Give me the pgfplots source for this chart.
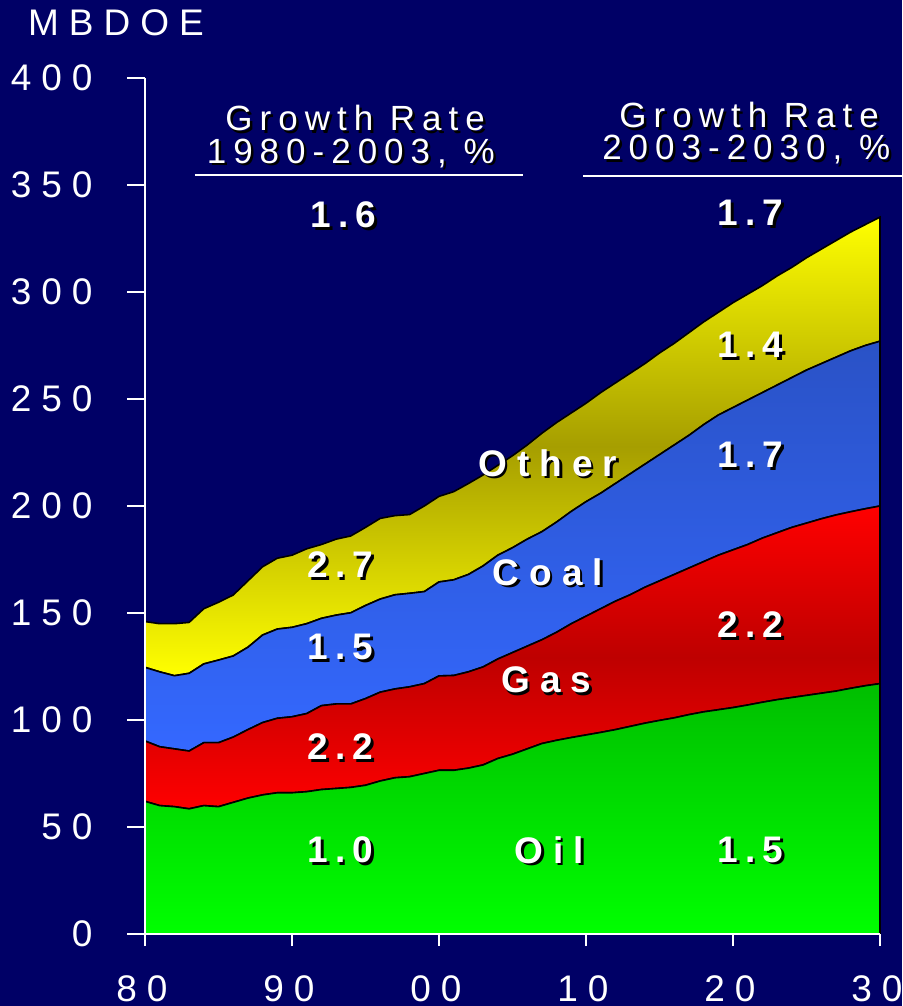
\documentclass[border=0pt]{standalone}
\usepackage{fontspec}
\setmainfont{Liberation Sans}
\newfontfamily\tickfont[LetterSpace=27]{Liberation Sans}
\newfontfamily\hdfont[LetterSpace=20]{Liberation Sans}
\newfontfamily\numfont[LetterSpace=19]{Liberation Sans}
\newfontfamily\wordfont[LetterSpace=27]{Liberation Sans}
\usepackage{pgfplots}
\pgfplotsset{compat=1.18}
\usepackage{pgfplotstable}

\definecolor{bg}{HTML}{000066}
\definecolor{oilB}{HTML}{00FF00}
\definecolor{oilT}{HTML}{00BE00}
\definecolor{gasE}{HTML}{FF0000}
\definecolor{gasM}{HTML}{BE0000}
\definecolor{coalB}{HTML}{3468FF}
\definecolor{coalT}{HTML}{2A52C6}
\definecolor{othE}{HTML}{FFFF00}
\definecolor{othM}{HTML}{A69E00}

\pgfplotstableread{
year oil gas coal other
1980 62.0 28.2 34.4 21.4
1981 60.0 27.5 35.0 22.5
1982 59.5 27.0 34.2 24.3
1983 58.5 27.0 36.3 23.8
1984 60.0 29.4 36.8 25.8
1985 59.5 29.9 38.6 27.0
1986 61.5 30.5 37.9 28.5
1987 63.5 32.0 38.5 31.0
1988 65.0 33.8 40.9 31.9
1989 66.0 34.8 41.7 33.1
1990 66.0 35.5 41.8 33.7
1991 66.5 36.5 42.0 35.0
1992 67.5 39.2 40.8 34.5
1993 68.0 39.5 41.5 35.5
1994 68.5 39.0 42.6 35.9
1995 69.5 40.5 43.5 36.5
1996 71.5 41.5 43.5 37.7
1997 73.0 41.5 44.0 37.0
1998 73.5 42.0 43.7 36.8
1999 75.0 42.0 43.0 40.0
2000 76.5 44.1 43.9 40.0
2001 76.5 44.3 44.7 41.2
2002 77.5 45.0 45.5 42.5
2003 79.0 45.8 47.2 42.5
2004 82.0 46.5 48.5 42.0
2005 84.0 47.5 49.0 43.0
2006 86.5 48.0 50.0 44.0
2007 89.0 48.5 50.5 46.0
2008 90.5 50.5 51.5 46.5
2009 91.8 53.2 52.5 46.0
2010 93.0 55.5 53.5 46.0
2011 94.2 57.8 54.0 47.0
2012 95.5 60.0 55.0 47.0
2013 97.0 61.5 56.5 47.0
2014 98.5 63.5 57.5 47.0
2015 99.8 65.2 59.0 47.5
2016 101.0 67.0 60.5 47.5
2017 102.5 68.5 62.0 48.0
2018 103.8 70.2 64.0 48.0
2019 104.8 72.2 65.5 48.0
2020 105.8 73.7 66.5 49.0
2021 107.0 75.0 67.5 49.5
2022 108.3 76.7 68.0 50.0
2023 109.5 78.0 69.0 51.0
2024 110.5 79.5 70.0 51.5
2025 111.5 80.5 71.5 52.5
2026 112.5 81.5 72.5 53.5
2027 113.5 82.3 73.7 54.5
2028 114.8 82.5 75.2 55.5
2029 116.0 82.7 76.3 56.5
2030 117.0 83.0 77.0 58.0
}\energy

% shadowed text: #1 position, #2 font, #3 text
\newcommand{\stxt}[3]{%
  \node[text=black, xshift=2.5pt, yshift=-2.5pt, font=#2] at (#1) {#3};
  \node[text=white, font=#2] at (#1) {#3};
}
\newcommand{\fnum}{\numfont\bfseries\fontsize{37}{40}\selectfont}
\newcommand{\fword}{\wordfont\bfseries\fontsize{37}{40}\selectfont}
\newcommand{\fhd}{\hdfont\fontsize{35}{38}\selectfont}

\begin{document}
\begin{tikzpicture}[x=1pt,y=1pt]
\clip (0,0) rectangle (902,1006);
\fill[bg] (0,0) rectangle (902,1006);
\node[anchor=base west, text=white, font=\tickfont\fontsize{37}{40}\selectfont, inner sep=0pt] at (28,970) {MBDOE};

\begin{axis}[
  at={(145pt,72pt)}, anchor=south west,
  scale only axis, width=735pt, height=856pt,
  xmin=1980, xmax=2030, ymin=0, ymax=400,
  axis lines=left, axis line style={white, line width=2pt, -},
  clip=false, axis on top,
  stack plots=y,
  xtick=\empty,
  ytick={0,50,...,400},
  major tick length=18pt, tick align=outside,
  tick style={white, line width=2pt},
  /pgf/number format/assume math mode=true,
  yticklabel style={text=white, font=\tickfont\fontsize{37}{40}\selectfont, anchor=east, xshift=-31pt},
]
\addplot[draw=black, line width=1.6pt, top color=oilT, bottom color=oilB] table[x=year, y=oil] {\energy} \closedcycle;
\addplot[draw=black, line width=1.6pt, top color=gasE, bottom color=gasE, middle color=gasM] table[x=year, y=gas] {\energy} \closedcycle;
\addplot[draw=black, line width=1.6pt, top color=coalT, bottom color=coalB] table[x=year, y=coal] {\energy} \closedcycle;
\addplot[draw=black, line width=1.6pt, top color=othE, bottom color=othE, middle color=othM] table[x=year, y=other] {\energy} \closedcycle;
\end{axis}

\begin{axis}[
  at={(145pt,72pt)}, anchor=south west,
  scale only axis, width=735pt, height=856pt,
  xmin=1980, xmax=2030, ymin=0, ymax=400,
  axis x line=bottom, hide y axis, clip=false,
  axis line style={white, line width=2pt, -},
  xtick={1980,1990,2000,2010,2020,2030},
  xticklabels={80,90,00,10,20,30},
  major tick length=12pt, tick align=outside,
  tick style={white, line width=2pt},
  xticklabel style={text=white, font=\tickfont\fontsize{37}{40}\selectfont, anchor=north, yshift=-26pt, xshift=-3pt},
]
% headers
\stxt{1994.3,381.3}{\fhd}{Growth Rate}
\stxt{1994.0,364.9}{\fhd}{1980-2003, \%}
\draw[white, line width=2pt] (1983.4,354.7) -- (2005.7,354.7);
\stxt{2021.1,382.7}{\fhd}{Growth Rate}
\stxt{2020.9,366.4}{\fhd}{2003-2030, \%}
\draw[white, line width=2pt] (2009.8,354.2) -- (2033,354.2);
\stxt{1993.5,336}{\fnum}{1.6}
\stxt{2021.2,336.9}{\fnum}{1.7}
% left column
\stxt{1993.3,172.4}{\fnum}{2.7}
\stxt{1993.3,134.1}{\fnum}{1.5}
\stxt{1993.3,87.4}{\fnum}{2.2}
\stxt{1993.3,39.3}{\fnum}{1.0}
% middle words
\stxt{2007.4,220.1}{\fword}{Other}
\stxt{2007.4,169.2}{\fword}{Coal}
\stxt{2007.3,118.7}{\fword}{Gas}
\stxt{2007.5,39.3}{\fword}{Oil}
% right column
\stxt{2021.2,275.2}{\fnum}{1.4}
\stxt{2021.2,223.8}{\fnum}{1.7}
\stxt{2021.2,144.4}{\fnum}{2.2}
\stxt{2021.2,39.3}{\fnum}{1.5}
\end{axis}
\end{tikzpicture}
\end{document}
